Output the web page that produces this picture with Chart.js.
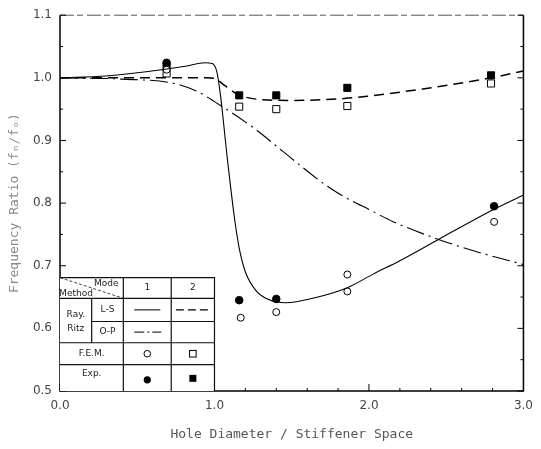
<!DOCTYPE html>
<html>
<head>
<meta charset="utf-8">
<script src="https://cdn.jsdelivr.net/npm/chart.js@4.4.1/dist/chart.umd.min.js"></script>
<style>
html, body { margin: 0; padding: 0; background: #fff; }
</style>
</head>
<body>
<canvas id="freqRatio" width="541" height="449"></canvas>
<script>
// Ray.-Ritz, L-S method, mode 1 (solid)
var lsMode1X = [0, 0.3, 0.57, 0.8, 0.94, 0.985, 1.015, 1.04, 1.06, 1.08, 1.10, 1.13, 1.16, 1.20, 1.27, 1.35, 1.46, 1.65, 1.86, 2.03, 2.2, 2.45, 2.8, 3.0];
var lsMode1Y = [1.0, 1.003, 1.010, 1.018, 1.024, 1.023, 1.010, 0.970, 0.925, 0.878, 0.835, 0.775, 0.728, 0.69, 0.66, 0.646, 0.641, 0.649, 0.665, 0.687, 0.708, 0.742, 0.789, 0.813];

// Ray.-Ritz, L-S method, mode 2 (dashed)
var lsMode2X = [0, 0.5, 0.95, 1.0, 1.07, 1.14, 1.27, 1.5, 1.84, 2.0, 2.37, 2.79, 3.0];
var lsMode2Y = [1.0, 1.0, 1.0, 0.999, 0.987, 0.975, 0.966, 0.964, 0.967, 0.971, 0.983, 1.0, 1.011];

// Ray.-Ritz, O-P method, mode 1 (dash-dot)
var opMode1X = [0, 0.4, 0.74, 0.89, 1.0, 1.27, 1.44, 1.76, 2.03, 2.16, 2.45, 2.73, 3.0];
var opMode1Y = [1.0, 0.998, 0.991, 0.978, 0.962, 0.917, 0.883, 0.822, 0.786, 0.770, 0.742, 0.72, 0.702];

// F.E.M. results
var femMode1X = [0.69, 1.17, 1.40, 1.86, 1.86, 2.81];
var femMode1Y = [1.013, 0.617, 0.626, 0.686, 0.659, 0.770];
var femMode2X = [0.69, 1.16, 1.40, 1.86, 2.79];
var femMode2Y = [1.007, 0.954, 0.950, 0.955, 0.991];

// Experiments
var expMode1X = [0.69, 1.16, 1.40, 2.81];
var expMode1Y = [1.024, 0.645, 0.647, 0.795];
var expMode2X = [0.69, 1.16, 1.40, 1.86, 2.79];
var expMode2Y = [1.018, 0.972, 0.972, 0.984, 1.004];

function pts(xs, ys) {
    return xs.map(function (x, i) { return { x: x, y: ys[i] }; });
}

function isMajor(v, step) {
    var r = v / step;
    return Math.abs(r - Math.round(r)) < 1e-6;
}

// frame, inward ticks and the method / mode table
var frameAndTable = {
    id: "frameAndTable",
    afterDatasetsDraw: function (chart) {
        var ctx = chart.ctx;
        var a = chart.chartArea;
        var sx = chart.scales.x, sy = chart.scales.y;
        ctx.save();

        // top line (broken, like the scan)
        ctx.lineWidth = 1;
        ctx.strokeStyle = "#555";
        ctx.setLineDash([14, 3, 6, 4]);
        ctx.beginPath();
        ctx.moveTo(a.left, a.top); ctx.lineTo(a.right, a.top);
        ctx.stroke();
        ctx.setLineDash([]);

        ctx.strokeStyle = "#000";
        ctx.lineWidth = 1.5;
        ctx.beginPath();
        ctx.moveTo(a.left, a.top); ctx.lineTo(a.left, a.bottom);
        ctx.lineTo(a.right, a.bottom); ctx.lineTo(a.right, a.top);
        ctx.stroke();

        ctx.lineWidth = 1;
        ctx.beginPath();
        sx.ticks.forEach(function (t) {
            var px = sx.getPixelForValue(t.value);
            var len = isMajor(t.value, 1) ? 7 : 3;
            ctx.moveTo(px, a.bottom); ctx.lineTo(px, a.bottom - len);
        });
        sy.ticks.forEach(function (t) {
            var py = sy.getPixelForValue(t.value);
            var len = isMajor(t.value, 0.1) ? 6 : 3;
            ctx.moveTo(a.left, py); ctx.lineTo(a.left + len, py);
            ctx.moveTo(a.right, py); ctx.lineTo(a.right - len, py);
        });
        ctx.stroke();

        // table
        var L = a.left, R = sx.getPixelForValue(1.0);
        var c0 = sx.getPixelForValue(0.205), c1 = sx.getPixelForValue(0.41), c2 = sx.getPixelForValue(0.72);
        var r0 = sy.getPixelForValue(0.681), r1 = sy.getPixelForValue(0.648), r2 = sy.getPixelForValue(0.611),
            r3 = sy.getPixelForValue(0.577), r4 = sy.getPixelForValue(0.542), r5 = a.bottom;

        ctx.fillStyle = "#fff";
        ctx.fillRect(L, r0, R - L, r5 - r0);

        ctx.lineWidth = 1.2;
        ctx.strokeStyle = "#111";
        ctx.beginPath();
        ctx.moveTo(L, r0); ctx.lineTo(R, r0); ctx.lineTo(R, r5);
        ctx.moveTo(c1, r0); ctx.lineTo(c1, r5);
        ctx.moveTo(c2, r0); ctx.lineTo(c2, r5);
        ctx.moveTo(L, r1); ctx.lineTo(R, r1);
        ctx.moveTo(c0, r2); ctx.lineTo(R, r2);
        ctx.moveTo(c0, r1); ctx.lineTo(c0, r3);
        ctx.moveTo(L, r3); ctx.lineTo(R, r3);
        ctx.moveTo(L, r4); ctx.lineTo(R, r4);
        ctx.stroke();

        ctx.lineWidth = 0.8;
        ctx.setLineDash([3, 2]);
        ctx.beginPath();
        ctx.moveTo(L, r0); ctx.lineTo(c1, r1);
        ctx.stroke();
        ctx.setLineDash([]);

        ctx.fillStyle = "#222";
        ctx.font = "9px 'DejaVu Sans'";
        ctx.textBaseline = "middle";
        ctx.textAlign = "center";
        var m1 = (c1 + c2) / 2, m2 = (c2 + R) / 2;
        ctx.fillText("Mode", c1 - 17, r0 + 6);
        ctx.fillText("Method", L + 16, r1 - 5);
        ctx.fillText("1", m1, (r0 + r1) / 2);
        ctx.fillText("2", m2, (r0 + r1) / 2);
        ctx.fillText("Ray.", (L + c0) / 2, (r1 + r3) / 2 - 6);
        ctx.fillText("Ritz", (L + c0) / 2, (r1 + r3) / 2 + 8);
        ctx.fillText("L-S", (c0 + c1) / 2, (r1 + r2) / 2);
        ctx.fillText("O-P", (c0 + c1) / 2, (r2 + r3) / 2);
        ctx.fillText("F.E.M.", (L + c1) / 2, (r3 + r4) / 2);
        ctx.fillText("Exp.", (L + c1) / 2, (r4 + r5) / 2 - 4);

        ctx.strokeStyle = "#000";
        ctx.lineWidth = 1;
        ctx.beginPath();
        ctx.moveTo(m1 - 13, (r1 + r2) / 2); ctx.lineTo(m1 + 13, (r1 + r2) / 2);
        ctx.stroke();
        ctx.lineWidth = 1.4;
        ctx.setLineDash([8, 4]);
        ctx.beginPath();
        ctx.moveTo(m2 - 17, (r1 + r2) / 2); ctx.lineTo(m2 + 17, (r1 + r2) / 2);
        ctx.stroke();
        ctx.lineWidth = 1;
        ctx.setLineDash([10, 3, 2, 3]);
        ctx.beginPath();
        ctx.moveTo(m1 - 13, (r2 + r3) / 2); ctx.lineTo(m1 + 14, (r2 + r3) / 2);
        ctx.stroke();
        ctx.setLineDash([]);

        ctx.lineWidth = 1;
        ctx.beginPath();
        ctx.arc(m1, (r3 + r4) / 2, 3.3, 0, Math.PI * 2);
        ctx.stroke();
        ctx.strokeRect(m2 - 3.3, (r3 + r4) / 2 - 3.3, 6.6, 6.6);
        ctx.fillStyle = "#000";
        ctx.beginPath();
        ctx.arc(m1, (r4 + r5) / 2 + 2, 3.6, 0, Math.PI * 2);
        ctx.fill();
        ctx.fillRect(m2 - 3.5, (r4 + r5) / 2 - 3, 7, 7);
        ctx.restore();
    }
};

new Chart("freqRatio", {
    type: "scatter",
    data: {
        datasets: [{
            label: "L-S mode 1",
            data: pts(lsMode1X, lsMode1Y),
            showLine: true,
            borderColor: "#000",
            borderWidth: 1.1,
            pointRadius: 0,
            cubicInterpolationMode: "monotone"
        }, {
            label: "L-S mode 2",
            data: pts(lsMode2X, lsMode2Y),
            showLine: true,
            borderColor: "#000",
            borderWidth: 1.5,
            borderDash: [10, 6],
            pointRadius: 0,
            cubicInterpolationMode: "monotone"
        }, {
            label: "O-P mode 1",
            data: pts(opMode1X, opMode1Y),
            showLine: true,
            borderColor: "#000",
            borderWidth: 1.1,
            borderDash: [18, 5, 2, 5],
            pointRadius: 0,
            cubicInterpolationMode: "monotone"
        }, {
            label: "F.E.M. mode 1",
            data: pts(femMode1X, femMode1Y),
            pointStyle: "circle",
            pointRadius: 3.5,
            backgroundColor: "#fff",
            borderColor: "#000",
            borderWidth: 1
        }, {
            label: "F.E.M. mode 2",
            data: pts(femMode2X, femMode2Y),
            pointStyle: "rect",
            pointRadius: 5,
            backgroundColor: "#fff",
            borderColor: "#000",
            borderWidth: 1
        }, {
            label: "Exp. mode 1",
            data: pts(expMode1X, expMode1Y),
            pointStyle: "circle",
            pointRadius: 3.8,
            backgroundColor: "#000",
            borderColor: "#000",
            borderWidth: 1
        }, {
            label: "Exp. mode 2",
            data: pts(expMode2X, expMode2Y),
            pointStyle: "rect",
            pointRadius: 5,
            backgroundColor: "#000",
            borderColor: "#000",
            borderWidth: 1
        }]
    },
    options: {
        responsive: false,
        animation: false,
        layout: {
            padding: { top: 10, right: 7, left: 0, bottom: 0 }
        },
        plugins: {
            legend: { display: false },
            tooltip: { enabled: false }
        },
        scales: {
            x: {
                type: "linear",
                min: 0,
                max: 3,
                afterFit: function (scale) { scale.height = 58; },
                grid: { display: false, drawTicks: false },
                border: { display: false },
                ticks: {
                    stepSize: 0.2,
                    autoSkip: false,
                    maxRotation: 0,
                    padding: 8,
                    color: "#444",
                    font: { family: "'DejaVu Sans'", size: 12 },
                    callback: function (v) { return isMajor(v, 1) ? v.toFixed(1) : ""; }
                },
                title: {
                    display: true,
                    text: "Hole Diameter / Stiffener Space",
                    color: "#555",
                    font: { family: "'DejaVu Sans Mono'", size: 13 },
                    padding: { top: 0, bottom: 7 }
                }
            },
            y: {
                type: "linear",
                min: 0.5,
                max: 1.1,
                afterFit: function (scale) { scale.width = 60; },
                grid: { display: false, drawTicks: false },
                border: { display: false },
                ticks: {
                    stepSize: 0.05,
                    autoSkip: false,
                    padding: 8,
                    color: "#444",
                    font: { family: "'DejaVu Sans'", size: 12 },
                    callback: function (v) { return isMajor(v, 0.1) ? v.toFixed(1) : ""; }
                },
                title: {
                    display: true,
                    text: "Frequency Ratio (fₙ/fₒ)",
                    color: "#888",
                    font: { family: "'DejaVu Sans Mono'", size: 13 },
                    padding: { top: 7, bottom: 0 }
                }
            }
        }
    },
    plugins: [frameAndTable]
});
</script>
</body>
</html>
